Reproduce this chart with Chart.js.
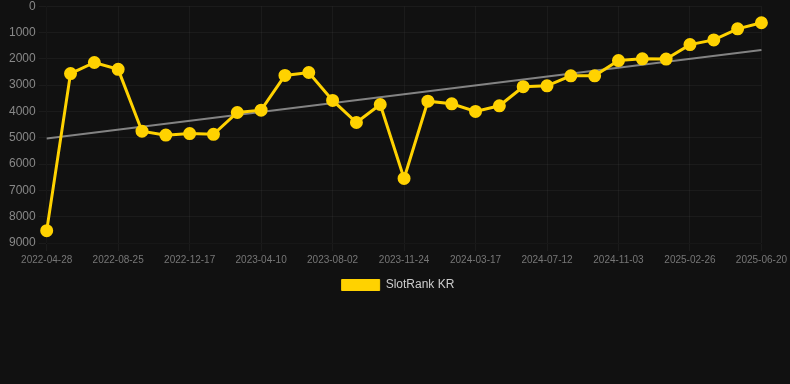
<!DOCTYPE html>
<html>
<head>
<meta charset="utf-8">
<script src="https://cdn.jsdelivr.net/npm/chart.js@4/dist/chart.umd.min.js"></script>
<style>
    html, body { margin: 0; padding: 0; background: #111111; overflow: hidden; }
    #wrap { position: relative; width: 790px; height: 305px; margin-top: -4px; }
</style>
</head>
<body>
<div id="wrap"><canvas id="rankChart"></canvas></div>
<script>
const dates = [
    "2022-04-28", "2022-06-06", "2022-07-16", "2022-08-25", "2022-10-02", "2022-11-09",
    "2022-12-17", "2023-01-24", "2023-03-03", "2023-04-10", "2023-05-18", "2023-06-25",
    "2023-08-02", "2023-09-09", "2023-10-17", "2023-11-24", "2024-01-01", "2024-02-08",
    "2024-03-17", "2024-04-25", "2024-06-03", "2024-07-12", "2024-08-19", "2024-09-26",
    "2024-11-03", "2024-12-11", "2025-01-19", "2025-02-26", "2025-04-05", "2025-05-13",
    "2025-06-20"
];
const rankKR = [
    8530, 2560, 2140, 2400, 4750, 4900, 4840, 4870, 4040, 3950,
    2630, 2520, 3580, 4420, 3735, 6545, 3610, 3710, 4000, 3785,
    3060, 3025, 2645, 2645, 2065, 2000, 2010, 1460, 1280, 860,
    630
];
// trend line: only the two ends
const trendKR = [5030].concat(Array(29).fill(null), [1665]);
const yTicks = [0, 1000, 2000, 3000, 4000, 5000, 6000, 7000, 8000, 9000];

const ctx = document.getElementById("rankChart").getContext("2d");
new Chart(ctx, {
    type: "line",
    data: {
        labels: dates,
        datasets: [
            {
                label: "SlotRank KR",
                data: rankKR,
                borderColor: "#FFD200",
                backgroundColor: "#FFD200",
                borderWidth: 3,
                pointRadius: 5,
                pointBackgroundColor: "#FFD200",
                pointBorderColor: "#FFD200",
                tension: 0,
                fill: false,
            },
            {
                label: "trend",
                data: trendKR,
                borderColor: "rgba(170,170,170,0.75)",
                borderWidth: 2,
                pointRadius: 0,
                spanGaps: true,
                fill: false,
            },
        ],
    },
    options: {
        responsive: true,
        maintainAspectRatio: false,
        animation: false,
        layout: { padding: { left: 6, right: 0, top: 0, bottom: 0 } },
        scales: {
            x: {
                grid: { color: "rgba(255,255,255,0.045)" },
                ticks: {
                    color: "#777",
                    font: { size: 10 },
                    maxRotation: 0,
                    autoSkip: false,
                    callback: function (val, i) {
                        return i % 3 === 0 ? dates[i] : null;
                    },
                },
            },
            y: {
                reverse: true,
                min: 0,
                max: 9000,
                grid: { color: "rgba(255,255,255,0.045)" },
                afterBuildTicks: (axis) => { axis.ticks = yTicks.map(v => ({ value: v })); },
                ticks: {
                    color: "#888",
                    font: { size: 12 },
                    callback: (v) => String(v),
                },
            },
        },
        plugins: {
            legend: {
                position: "bottom",
                labels: {
                    color: "#ccc",
                    font: { size: 12 },
                    boxWidth: 38,
                    boxHeight: 11,
                    filter: (item) => item.datasetIndex === 0,
                    generateLabels: (chart) => {
                        const items = Chart.defaults.plugins.legend.labels.generateLabels(chart);
                        items.forEach((it) => { it.lineWidth = 1; });
                        return items;
                    },
                },
            },
            tooltip: { enabled: false },
        },
    },
});
</script>
</body>
</html>
